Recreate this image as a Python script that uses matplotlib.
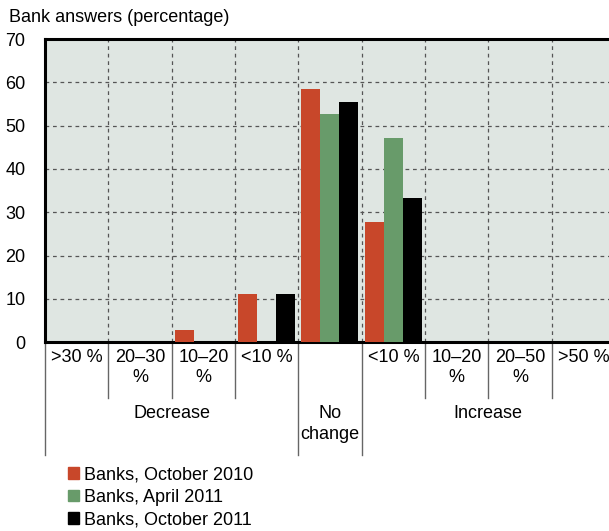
import matplotlib
matplotlib.use("Agg")
import matplotlib.pyplot as plt
from matplotlib.patches import Patch
import numpy as np

plt.rcParams['font.family'] = ['Liberation Sans', 'DejaVu Sans']

sub_labels = [">30 %", "20–30\n%", "10–20\n%", "<10 %", "", "<10 %", "10–20\n%", "20–50\n%", ">50 %"]
series_names = ["Banks, October 2010", "Banks, April 2011", "Banks, October 2011"]
oct2010 = [0, 0, 2.8, 11.1, 58.4, 27.8, 0, 0, 0]
apr2011 = [0, 0, 0, 0, 52.8, 47.2, 0, 0, 0]
oct2011 = [0, 0, 0, 11.1, 55.5, 33.4, 0, 0, 0]
colors = ["#C8472A", "#689B6A", "#000000"]
groups = [("Decrease", 0, 4), ("No\nchange", 4, 5), ("Increase", 5, 9)]

W, H = 609, 531
fig = plt.figure(figsize=(W/100, H/100), dpi=100)
ax_l, ax_r, ax_t, ax_b = 45, 615, 39, 342.3
ax = fig.add_axes([ax_l/W, 1-ax_b/H, (ax_r-ax_l)/W, (ax_b-ax_t)/H])
ax.set_facecolor("#DFE6E2")

n = len(sub_labels)
x = np.arange(n) + 0.5
bw = 0.3
for k, (vals, c, name) in enumerate(zip([oct2010, apr2011, oct2011], colors, series_names)):
    ax.bar(x + (k-1)*bw, vals, width=bw, color=c, zorder=3, label=name)

ax.set_xlim(0, n)
ax.set_ylim(0, 70)
ax.set_yticks(range(0, 71, 10))
ax.set_xticks(range(0, n+1))
ax.set_xticklabels([])
ax.tick_params(axis='y', length=0, pad=14, labelsize=13)
ax.tick_params(axis='x', length=0)
ax.grid(True, color="#555555", linestyle=(0, (3, 3)), linewidth=0.9, zorder=1)
for s in ['top', 'left', 'bottom']:
    ax.spines[s].set_linewidth(2.2)
ax.spines['right'].set_visible(False)

axh = ax_b - ax_t
tr = ax.get_xaxis_transform()
def yax(py):
    return -(py - ax_b) / axh

for i, lab in enumerate(sub_labels):
    ax.text(i + 0.5, yax(349), lab, transform=tr, ha='center', va='top', fontsize=13,
            linespacing=1.25)

for b in range(n+1):
    long_ = b in (0, 4, 5)
    ax.plot([b, b], [0, yax(455 if long_ else 398)], transform=tr, color="#666666",
            lw=1, clip_on=False, zorder=0)

for name, a, b in groups:
    ax.text((a+b)/2, yax(405.5), name, transform=tr, ha='center', va='top', fontsize=13,
            linespacing=1.25)

fig.text(9/W, 1-8.6/H, "Bank answers (percentage)", ha='left', va='top', fontsize=13)

handles = [Patch(color=c) for c in colors]
fig.legend(handles, series_names, loc='upper left', bbox_to_anchor=(68/W, 1-466.5/H),
           frameon=False, fontsize=13, handlelength=0.6, handleheight=0.6,
           handletextpad=0.28, labelspacing=0.3, borderpad=0, borderaxespad=0)

fig.savefig("out.png", dpi=100)
